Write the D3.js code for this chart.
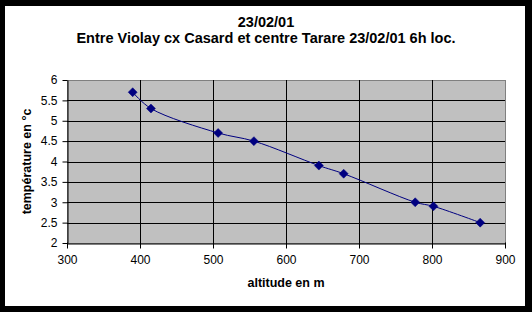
<!DOCTYPE html>
<html>
<head>
<meta charset="utf-8">
<script src="https://cdn.jsdelivr.net/npm/d3@7"></script>
<style>
  body { margin: 0; background: #000; }
  svg { display: block; font-family: "Liberation Sans", Arial, sans-serif; }
</style>
</head>
<body>
<div id="chart"></div>
<script>
// data
var altitude = [390, 415, 507, 556, 645, 679, 777, 802, 866];
var temperature = [5.7, 5.3, 4.7, 4.5, 3.9, 3.7, 3.0, 2.9, 2.5];
var xTicks = [300, 400, 500, 600, 700, 800, 900];
var yTicks = [2, 2.5, 3, 3.5, 4, 4.5, 5, 5.5, 6];
var titleLines = ["23/02/01", "Entre Violay cx Casard et centre Tarare 23/02/01 6h loc."];

var width = 532, height = 312;
var plot = {left: 67, top: 80, right: 505, bottom: 243};

var svg = d3.select("#chart").append("svg")
    .attr("width", width)
    .attr("height", height);

// black frame + white chart area
svg.append("rect").attr("width", width).attr("height", height).attr("fill", "#000");
svg.append("rect").attr("x", 5).attr("y", 6).attr("width", 520).attr("height", 300).attr("fill", "#fff");

var x = d3.scaleLinear().domain([300, 900]).range([plot.left, plot.right]);
var y = d3.scaleLinear().domain([2, 6]).range([plot.bottom, plot.top]);

// plot area
svg.append("rect")
    .attr("x", plot.left).attr("y", plot.top)
    .attr("width", plot.right - plot.left).attr("height", plot.bottom - plot.top)
    .attr("fill", "#c0c0c0")
    .attr("stroke", "#808080")
    .attr("shape-rendering", "crispEdges");

// gridlines
svg.append("g").selectAll("line")
    .data(yTicks.slice(1, -1))
    .join("line")
    .attr("x1", plot.left).attr("x2", plot.right)
    .attr("y1", d => Math.round(y(d)) + 0.5).attr("y2", d => Math.round(y(d)) + 0.5)
    .attr("stroke", "#000");

svg.append("g").selectAll("line")
    .data(xTicks.slice(1, -1))
    .join("line")
    .attr("y1", plot.top).attr("y2", plot.bottom)
    .attr("x1", d => Math.round(x(d)) + 0.5).attr("x2", d => Math.round(x(d)) + 0.5)
    .attr("stroke", "#000");

// axes
var xAxis = d3.axisBottom(x).tickValues(xTicks).tickSize(5).tickSizeOuter(0).tickPadding(7);
var yAxis = d3.axisLeft(y).tickValues(yTicks).tickSize(5).tickSizeOuter(0).tickPadding(5)
    .tickFormat(d3.format("~g"));

var gx = svg.append("g")
    .attr("transform", "translate(0," + (plot.bottom + 0.5) + ")")
    .call(xAxis);
gx.select(".domain").attr("stroke", "#000");
gx.selectAll(".tick line").attr("y1", -1).attr("y2", 5);

var gy = svg.append("g")
    .attr("transform", "translate(" + (plot.left + 0.5) + ",0)")
    .call(yAxis);
gy.select(".domain").attr("stroke", "#000");

svg.selectAll(".tick text")
    .attr("font-family", "Liberation Sans, Arial, sans-serif")
    .attr("font-size", 12)
    .attr("fill", "#000");

// series
var pts = altitude.map((a, i) => [a, temperature[i]]);

svg.append("path")
    .datum(pts)
    .attr("fill", "none")
    .attr("stroke", "#000080")
    .attr("stroke-width", 1)
    .attr("d", d3.line().x(d => x(d[0])).y(d => y(d[1])).curve(d3.curveCatmullRom.alpha(0.5)));

svg.append("g").selectAll("path")
    .data(pts)
    .join("path")
    .attr("transform", d => "translate(" + x(d[0]) + "," + y(d[1]) + ")")
    .attr("d", "M0,-4.5L4.5,0L0,4.5L-4.5,0Z")
    .attr("fill", "#000080")
    .attr("stroke", "#000080")
    .attr("stroke-width", 0.5);

// titles
svg.append("g").selectAll("text")
    .data(titleLines)
    .join("text")
    .attr("x", 266)
    .attr("y", (d, i) => 27 + i * 16)
    .attr("text-anchor", "middle")
    .attr("font-size", 14.5)
    .attr("font-weight", "bold")
    .text(d => d);

svg.append("text")
    .attr("x", (plot.left + plot.right) / 2)
    .attr("y", 287)
    .attr("text-anchor", "middle")
    .attr("font-size", 12.5)
    .attr("font-weight", "bold")
    .text("altitude en m");

svg.append("text")
    .attr("transform", "translate(31," + ((plot.top + plot.bottom) / 2) + ") rotate(-90)")
    .attr("text-anchor", "middle")
    .attr("font-size", 12.5)
    .attr("font-weight", "bold")
    .text("température en °c");
</script>
</body>
</html>
